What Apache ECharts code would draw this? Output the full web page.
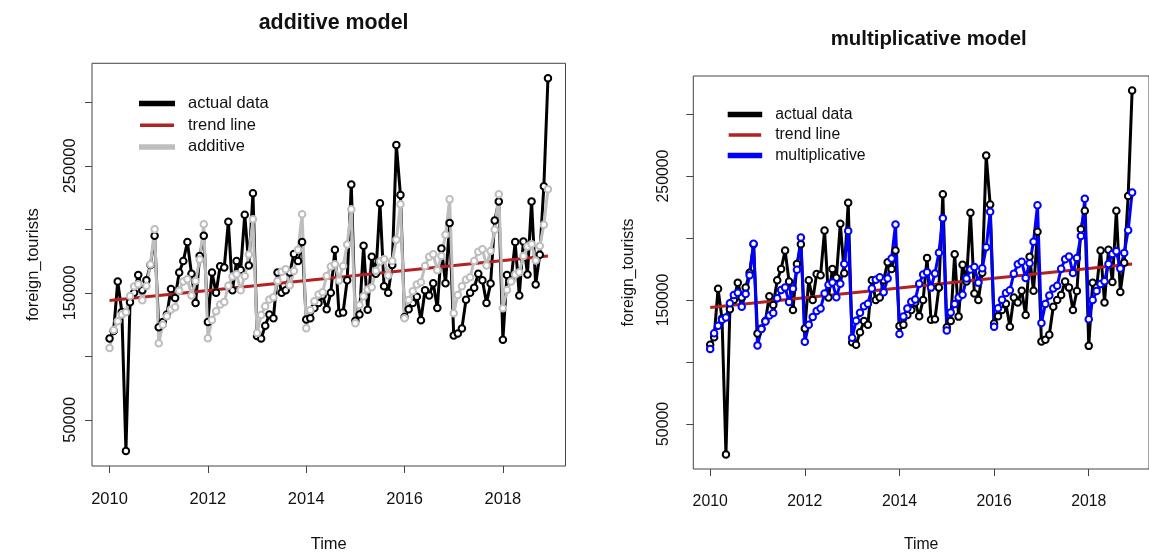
<!DOCTYPE html>
<html><head><meta charset="utf-8">
<script src="https://cdn.jsdelivr.net/npm/echarts@6/dist/echarts.min.js"></script>
<style>html,body{margin:0;padding:0;background:#fff}#c{width:1149px;height:558px}</style>
</head><body><div id="c"></div>
<script>
// monthly series, Jan 2010 .. Dec 2018
const startYear = 2010;
const actual = [
  114000, 120000, 159000, 135000, 25400, 142500, 150000, 164000, 152000, 160000, 172000, 195000,
  123000, 127000, 133000, 153000, 146000, 166000, 175000, 190000, 165000, 142000, 179000, 195000,
  127000, 166000, 150000, 171000, 170000, 206000, 152000, 175000, 168000, 211500, 171500, 228500,
  116000, 114000, 124000, 133000, 130000, 166000, 150000, 152000, 166000, 180500, 175000, 190000,
  129000, 130000, 138000, 142000, 148000, 137000, 150000, 184000, 134000, 134500, 160000, 235300,
  128000, 133000, 187000, 136600, 178500, 165000, 220500, 155200, 150000, 172000, 266500, 227000,
  131000, 137000, 142000, 147000, 128500, 152000, 148000, 157500, 138000, 185000, 157500, 205000,
  116500, 118000, 122000, 144500, 150000, 154000, 165000, 160000, 142000, 157300, 207000, 222000,
  113000, 164000, 160000, 190000, 148000, 190500, 164500, 222000, 156500, 180000, 234000, 319000
];
const additiveFit = [
  106500, 120800, 127700, 133000, 134800, 147600, 155000, 156800, 144100, 155400, 172300, 200100,
  110400, 124800, 131600, 136900, 138700, 151600, 158900, 160700, 148000, 159400, 176200, 204000,
  114300, 128700, 135500, 140800, 142700, 155500, 162800, 164600, 152000, 163300, 180100, 207900,
  118300, 132600, 139400, 144800, 146600, 159400, 166700, 168600, 155900, 167200, 184000, 211900,
  122200, 136500, 143400, 148700, 150500, 163300, 170700, 172500, 159800, 171100, 188000, 215800,
  126100, 140400, 147300, 152600, 154400, 167300, 174600, 176400, 163700, 175100, 191900, 219700,
  130000, 144400, 151200, 156500, 158400, 171200, 178500, 180300, 167700, 179000, 195800, 223600,
  134000, 148300, 155100, 160400, 162300, 175100, 182400, 184300, 171600, 182900, 199700, 227600,
  137900, 152200, 159000, 164400, 166200, 179000, 186400, 188200, 175500, 186800, 203700, 231500
];
const multiplicativeFit = [
  110400, 123200, 129200, 134000, 135900, 147300, 154000, 155800, 144500, 154800, 170000, 195300,
  113400, 126600, 132700, 137600, 139500, 151400, 158100, 160000, 148400, 159000, 174500, 200400,
  116400, 130000, 136200, 141200, 143200, 155300, 162300, 164100, 152300, 163200, 179000, 205600,
  119500, 133300, 139700, 144900, 146900, 159300, 166400, 168400, 156200, 167300, 183500, 210900,
  122500, 136600, 143200, 148500, 150500, 163200, 170600, 172500, 160000, 171400, 188100, 216000,
  125500, 140000, 146700, 152100, 154200, 167300, 174700, 176700, 163900, 175600, 192600, 221200,
  128500, 143400, 150200, 155700, 157900, 171200, 178800, 180800, 167800, 179700, 197100, 226400,
  131500, 146700, 153700, 159300, 161600, 175200, 182900, 185100, 171700, 183800, 201600, 231700,
  134500, 150100, 157200, 163000, 165200, 179100, 187200, 189300, 175500, 187900, 206200, 236800
];
const trendTimes = [2010, 2018 + 11 / 12];
const trendValues = [144000, 179000];
const xTicks = [2010, 2012, 2014, 2016, 2018];
const yTicks = [50000, 100000, 150000, 200000, 250000, 300000];
const yLabels = [50000, 150000, 250000];
const titles = ['additive model', 'multiplicative model'];
const legendNames = [['actual data', 'trend line', 'additive'], ['actual data', 'trend line', 'multiplicative']];

const FONT = '"Liberation Sans", Arial, sans-serif';
const toPairs = vals => vals.map((v, i) => [startYear + i / 12, v]);
const trendPairs = trendTimes.map((t, i) => [t, trendValues[i]]);

const xMin = 2010 - 0.04 * (11 / 12 + 8), xMax = 2018 + 11 / 12 + 0.04 * (11 / 12 + 8);
const yMin = 25400 - 0.04 * (319000 - 25400), yMax = 319000 + 0.04 * (319000 - 25400);

const grids = [
  { left: 92, top: 63.3, width: 473.5, height: 408.7 },
  { left: 693.3, top: 76, width: 461, height: 398.3 }
];
const panel = [
  { font: 16.5, labelMargin: 13, nameGap: 50, xMargin: 25, xNameGap: 70 },
  { font: 15.8, labelMargin: 22, nameGap: 57, xMargin: 25, xNameGap: 68 }
];

function xAxis(k) {
  const p = panel[k];
  return {
    type: 'value', gridIndex: k, min: xMin, max: xMax,
    axisLine: { show: false }, splitLine: { show: false },
    axisTick: { show: true, customValues: xTicks, length: 7, lineStyle: { color: '#444' } },
    axisLabel: { customValues: xTicks, margin: p.xMargin, fontSize: p.font, fontFamily: FONT, color: '#111', formatter: v => String(Math.round(v)) },
    name: 'Time', nameLocation: 'middle', nameGap: p.xNameGap, nameTextStyle: { fontSize: p.font, fontFamily: FONT, color: '#111' }
  };
}
function yAxis(k) {
  const p = panel[k];
  return {
    type: 'value', gridIndex: k, min: yMin, max: yMax,
    axisLine: { show: false }, splitLine: { show: false },
    axisTick: { show: true, customValues: yTicks, length: 7, lineStyle: { color: '#444' } },
    axisLabel: { customValues: yLabels, rotate: 90, margin: p.labelMargin, fontSize: p.font, fontFamily: FONT, color: '#111', formatter: v => String(Math.round(v)) },
    name: 'foreign_tourists', nameLocation: 'middle', nameRotate: 90, nameGap: p.nameGap,
    nameTextStyle: { fontSize: p.font, fontFamily: FONT, color: '#111' }
  };
}
function pointSeries(name, k, vals, color) {
  return {
    name, type: 'line', xAxisIndex: k, yAxisIndex: k, data: toPairs(vals),
    symbol: 'emptyCircle', symbolSize: 6.5, showAllSymbol: true,
    lineStyle: { color, width: 3 }, itemStyle: { color, borderColor: color, borderWidth: 2.4 },
    emphasis: { disabled: true }, z: 2
  };
}
function trendSeries(k) {
  return {
    name: 'trend line', type: 'line', xAxisIndex: k, yAxisIndex: k, data: trendPairs,
    symbol: 'none', lineStyle: { color: '#B22222', width: 3 }, itemStyle: { color: '#B22222' },
    emphasis: { disabled: true }, z: 2
  };
}

const option = {
  animation: false,
  backgroundColor: '#fff',
  textStyle: { fontFamily: FONT },
  title: [
    { text: titles[0], left: 328.6, top: 8, textAlign: 'center', textStyle: { fontSize: 21.4, fontWeight: 'bold', fontFamily: FONT, color: '#111' } },
    { text: titles[1], left: 923.7, top: 24, textAlign: 'center', textStyle: { fontSize: 20.4, fontWeight: 'bold', fontFamily: FONT, color: '#111' } }
  ],
  legend: [
    { left: 139, top: 95, padding: 0, orient: 'vertical', icon: 'rect', itemWidth: 34, itemHeight: 3.5, itemGap: 4.7,
      data: legendNames[0], textStyle: { fontSize: 16.5, fontFamily: FONT, color: '#111', padding: [0, 0, 0, 9] }, selectedMode: false },
    { left: 727.7, top: 106.5, padding: 0, orient: 'vertical', icon: 'rect', itemWidth: 32.5, itemHeight: 3.5, itemGap: 4.5,
      data: legendNames[1], textStyle: { fontSize: 15.8, fontFamily: FONT, color: '#111', padding: [0, 0, 0, 9] }, selectedMode: false }
  ],
  grid: grids.map(g => Object.assign({ show: true, borderColor: '#444', borderWidth: 1, backgroundColor: 'transparent', containLabel: false }, g)),
  xAxis: [xAxis(0), xAxis(1)],
  yAxis: [yAxis(0), yAxis(1)],
  series: [
    pointSeries('actual data', 0, actual, '#000'),
    trendSeries(0),
    pointSeries('additive', 0, additiveFit, '#BEBEBE'),
    pointSeries('actual data', 1, actual, '#000'),
    trendSeries(1),
    pointSeries('multiplicative', 1, multiplicativeFit, '#0000FF')
  ]
};
const chart = echarts.init(document.getElementById('c'), null, { renderer: 'canvas' });
chart.setOption(option);
</script></body></html>
